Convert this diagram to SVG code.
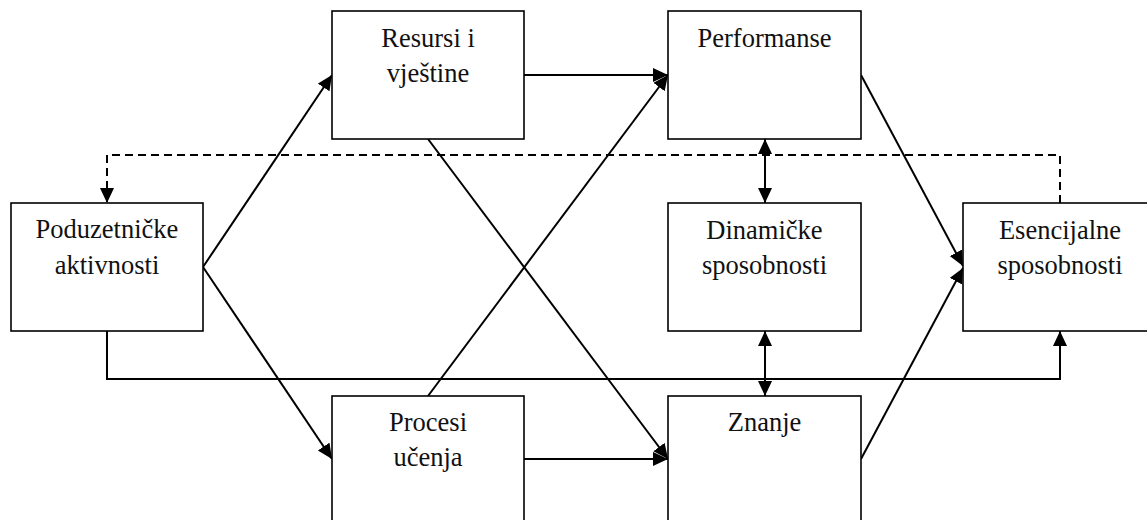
<svg xmlns="http://www.w3.org/2000/svg" width="1147" height="520" viewBox="0 0 1147 520">
<style>
.box{fill:#fff;stroke:#000;stroke-width:1.6}
.t{font-family:"Liberation Serif","Times New Roman",serif;font-size:26.5px;fill:#111;text-anchor:middle}
.c{fill:none;stroke:#000;stroke-width:2}
.d{fill:none;stroke:#000;stroke-width:2;stroke-dasharray:8 5}
</style>
<defs>
<marker id="ah" markerUnits="userSpaceOnUse" markerWidth="16" markerHeight="15" refX="15" refY="7" orient="auto-start-reverse" viewBox="0 0 16 15">
<path d="M0,0 L15,7 L0,14 z" fill="#000"/>
</marker>
</defs>
<rect width="1147" height="520" fill="#fff"/>
<g id="connectors">
<path class="d" d="M1060,203 V155 H107 V203" marker-end="url(#ah)"/>
<path class="c" d="M107,331 V379 H1060 V331" marker-end="url(#ah)"/>
<line class="c" x1="203" y1="267" x2="332" y2="75" marker-end="url(#ah)"/>
<line class="c" x1="203" y1="267" x2="332" y2="459" marker-end="url(#ah)"/>
<line class="c" x1="524" y1="75" x2="668" y2="75" marker-end="url(#ah)"/>
<line class="c" x1="524" y1="459" x2="668" y2="459" marker-end="url(#ah)"/>
<line class="c" x1="428" y1="139" x2="668" y2="459" marker-end="url(#ah)"/>
<line class="c" x1="428" y1="396" x2="668" y2="75" marker-end="url(#ah)"/>
<line class="c" x1="861" y1="75" x2="963" y2="266" marker-end="url(#ah)"/>
<line class="c" x1="861" y1="459" x2="963" y2="268" marker-end="url(#ah)"/>
<line class="c" x1="765" y1="139" x2="765" y2="203" marker-start="url(#ah)" marker-end="url(#ah)"/>
<line class="c" x1="765" y1="331" x2="765" y2="396" marker-start="url(#ah)" marker-end="url(#ah)"/>
</g>
<g id="poduzetnicke">
<rect class="box" x="11" y="203" width="192" height="128"/>
<text class="t" x="107" y="238">Poduzetničke</text>
<text class="t" x="107" y="274">aktivnosti</text>
</g>
<g id="resursi">
<rect class="box" x="332" y="11" width="192" height="128"/>
<text class="t" x="428" y="47">Resursi i</text>
<text class="t" x="428" y="82">vještine</text>
</g>
<g id="performanse">
<rect class="box" x="668" y="11" width="193" height="128"/>
<text class="t" x="764.5" y="47">Performanse</text>
</g>
<g id="dinamicke">
<rect class="box" x="668" y="203" width="193" height="128"/>
<text class="t" x="764.5" y="239">Dinamičke</text>
<text class="t" x="764.5" y="274">sposobnosti</text>
</g>
<g id="esencijalne">
<rect class="box" x="963" y="203" width="200" height="128"/>
<text class="t" x="1060" y="239">Esencijalne</text>
<text class="t" x="1060" y="274">sposobnosti</text>
</g>
<g id="procesi">
<rect class="box" x="332" y="396" width="192" height="140"/>
<text class="t" x="428" y="431">Procesi</text>
<text class="t" x="428" y="466">učenja</text>
</g>
<g id="znanje">
<rect class="box" x="668" y="396" width="193" height="140"/>
<text class="t" x="764.5" y="431">Znanje</text>
</g>
</svg>
